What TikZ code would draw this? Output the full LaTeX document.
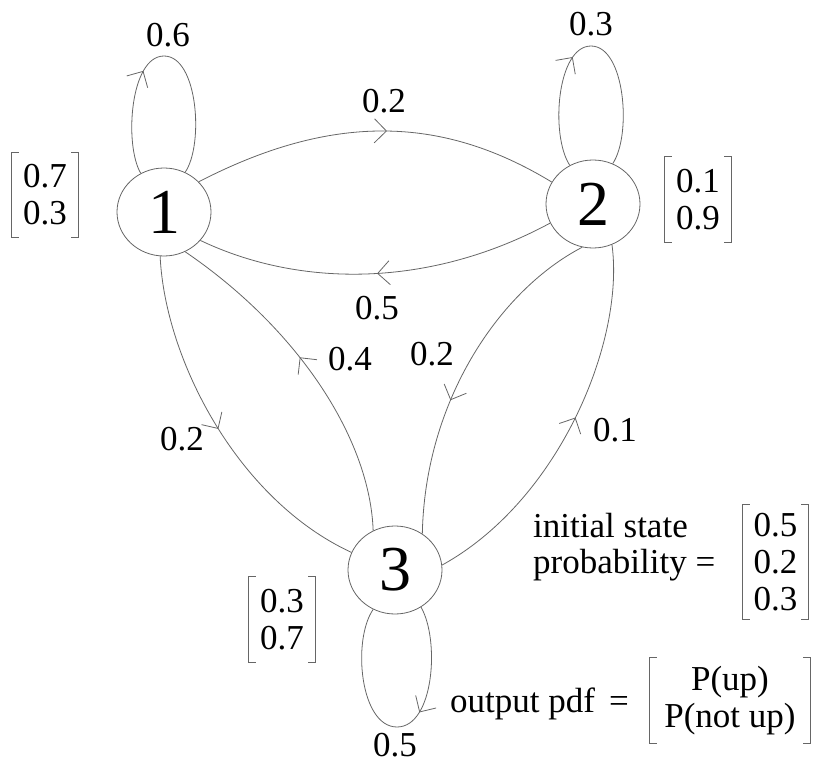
\documentclass[tikz,border=0pt]{standalone}
\usepackage{fontspec}
\setmainfont{Liberation Serif}
\usetikzlibrary{shapes.geometric,arrows.meta,decorations.markings}
\begin{document}
\begin{tikzpicture}[x=1pt,y=-1pt,
  ln/.style={draw=black!60, color=black!60, line width=0.8pt},
  state/.style={ellipse, draw=black!60, line width=0.8pt, minimum width=94pt, minimum height=88pt, inner sep=0pt, font=\fontsize{64}{64}\selectfont},
  lbl/.style={font=\fontsize{35}{37}\selectfont, inner sep=0pt},
  txt/.style={font=\fontsize{35}{37}\selectfont, inner sep=0pt, anchor=base west},
  vec/.style={font=\fontsize{35}{37}\selectfont, align=center, inner sep=0pt},
  brk/.style={draw=black!60, line width=0.8pt},
  midarrow/.style={postaction={decorate}, decoration={markings, mark=at position #1 with {\arrow{Straight Barb[length=12pt,width=24pt,line width=0.8pt]}}}},
]
\useasboundingbox (0,0) rectangle (814,765);

% states
\node[state] (n1) at (164,212) {1};
\node[state] (n2) at (593,204) {2};
\node[state] (n3) at (395,570) {3};

% self loops
\draw[ln, midarrow=0.40] (n1.121) .. controls (124,145) and (130,56) .. (164,56)
                              .. controls (198,56) and (204,145) .. (n1.62);
\draw[ln, midarrow=0.42] (n2.121) .. controls (550,135) and (557,46) .. (591,46)
                              .. controls (625,46) and (632,135) .. (n2.64);
\draw[ln, midarrow=0.40] (n3.305) .. controls (440,640) and (434,727) .. (397,727)
                              .. controls (360,727) and (352,640) .. (n3.241);

% transitions
\draw[ln, midarrow=0.53] (n1.41) .. controls (330,114) and (440,114) .. (n2.152);
\draw[ln, midarrow=0.50] (n2.204) .. controls (430,288) and (300,288) .. (n1.-38);
\draw[ln, midarrow=0.50] (n1.-95) .. controls (165,360) and (238,500) .. (n3.158);
\draw[ln, midarrow=0.55] (n3.119) .. controls (370,440) and (300,330) .. (n1.-62);
\draw[ln, midarrow=0.60] (n2.256) .. controls (500,290) and (425,400) .. (n3.53);
\draw[ln, midarrow=0.53] (n3.6) .. controls (560,500) and (625,340) .. (n2.295);

% transition labels
\node[lbl] (l11) at (168,35) {0.6};
\node[lbl] (l22) at (591,24) {0.3};
\node[lbl] (l33) at (395,745) {0.5};
\node[lbl] (l12) at (384,101) {0.2};
\node[lbl] (l21) at (377,308) {0.5};
\node[lbl] (l31) at (350,359) {0.4};
\node[lbl] (l23) at (432,354) {0.2};
\node[lbl] (l13) at (182,439) {0.2};
\node[lbl] (l32) at (615,430) {0.1};

% output vectors
\node[vec, minimum width=66pt, minimum height=85pt] (m1) at (45,195) {0.7\\0.3};
\node[vec, minimum width=66pt, minimum height=85pt] (m2) at (698,199.5) {0.1\\0.9};
\node[vec, minimum width=66pt, minimum height=85pt] (m3) at (282,619.5) {0.3\\0.7};
\node[vec, minimum width=65pt, minimum height=114pt] (m4) at (775.5,562) {0.5\\0.2\\0.3};
\node[vec, minimum width=160pt, minimum height=85pt] (m5) at (730,700.5) {P(up)\\P(not up)};

\foreach \m in {m1,m2,m3,m4,m5} {
  \draw[brk] ([xshift=7pt]\m.north west) -- (\m.north west) -- (\m.south west) -- ([xshift=7pt]\m.south west);
  \draw[brk] ([xshift=-7pt]\m.north east) -- (\m.north east) -- (\m.south east) -- ([xshift=-7pt]\m.south east);
}

% texts
\node[txt] (t1) at (533,537) {initial state};
\node[txt] (t2) at (533,573) {probability =};
\node[txt] (t3) at (450,712) {output pdf\hspace{0.4em}=};
\end{tikzpicture}
\end{document}
